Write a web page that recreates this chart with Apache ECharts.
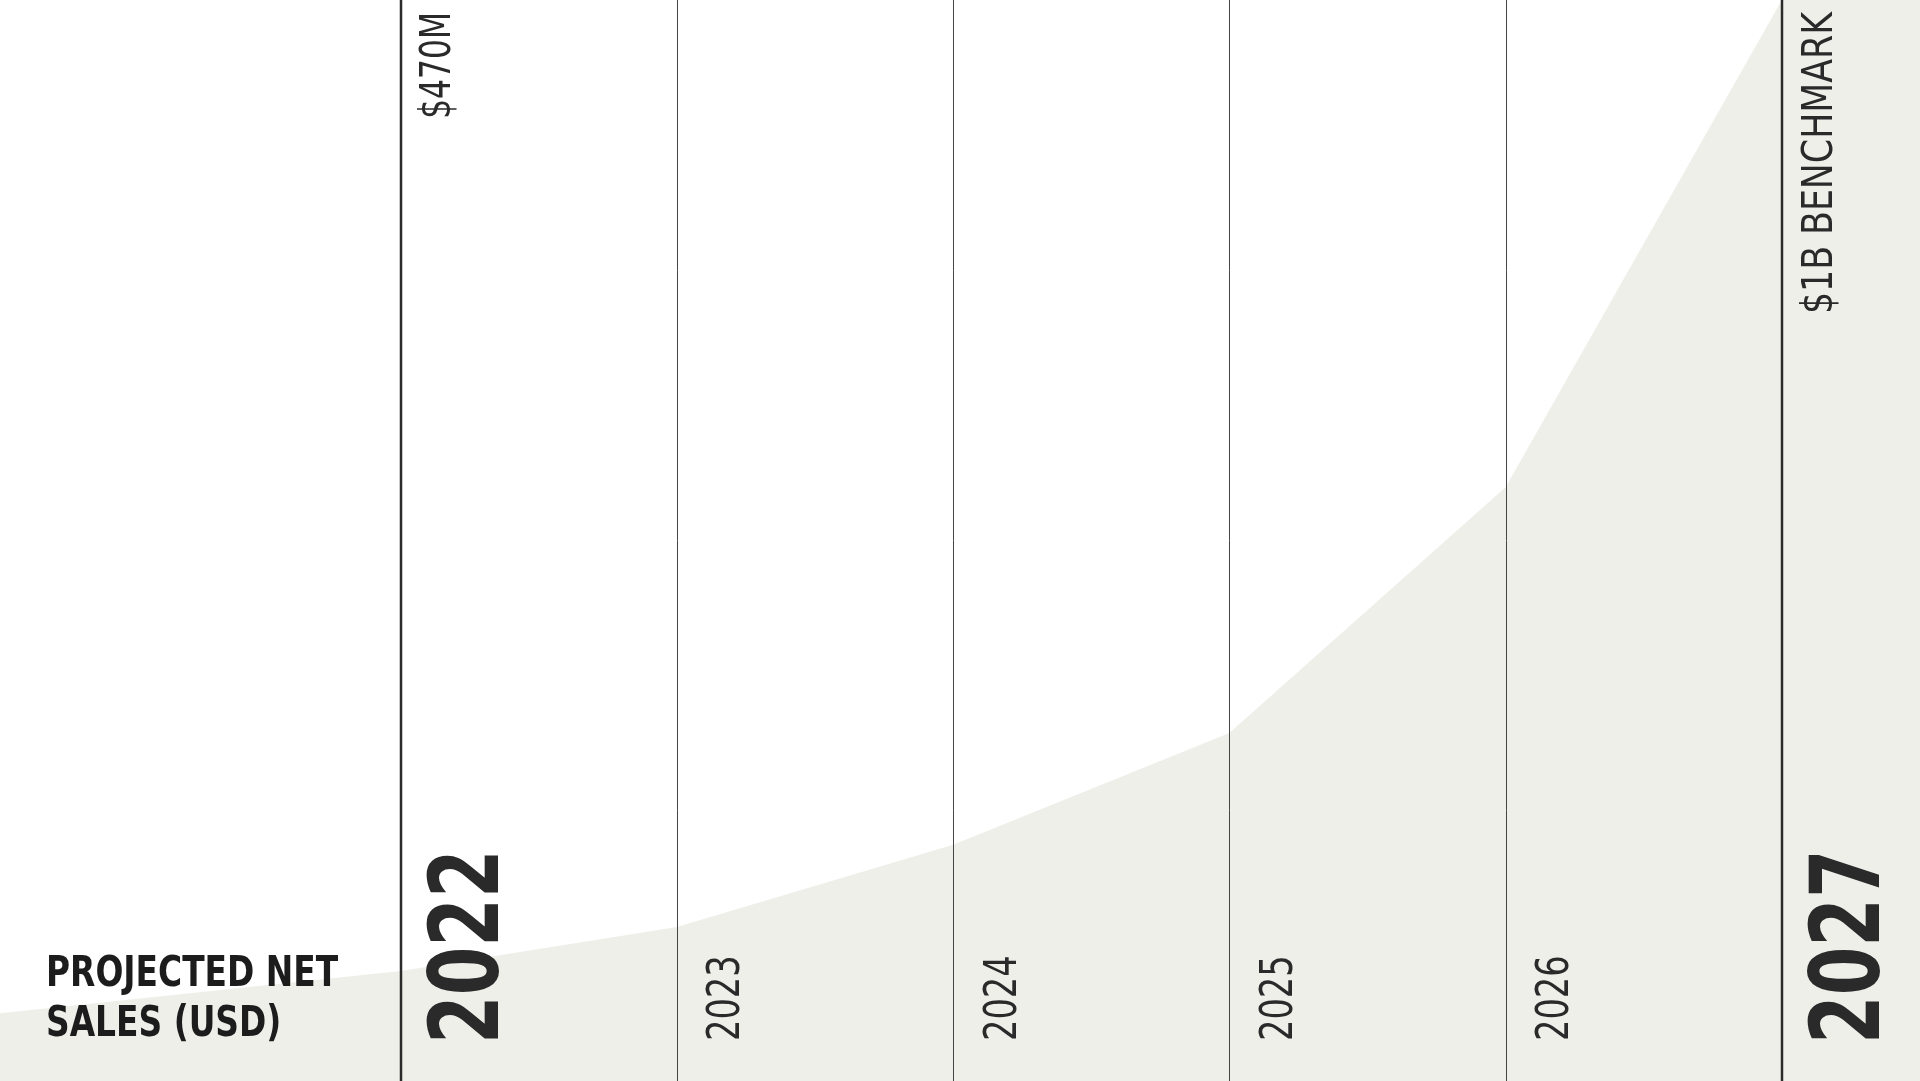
<!DOCTYPE html>
<html>
<head>
<meta charset="utf-8">
<title>Projected Net Sales</title>
<script src="https://cdn.jsdelivr.net/npm/echarts@6/dist/echarts.min.js"></script>
<style>
  html, body { margin: 0; padding: 0; background: #ffffff; }
  #chart { width: 1920px; height: 1081px; }
</style>
</head>
<body>
<div id="chart"></div>
<script>
// ---- data ----
const years = [2022, 2023, 2024, 2025, 2026, 2027];
const yearLabels = ['2022', '2023', '2024', '2025', '2026', '2027'];
const majorYear = [true, false, false, false, false, true];
const topLabels = ['$470M', '', '', '', '', '$1B BENCHMARK'];
// projected net sales (USD millions) along the area outline, incl. the chart edges
const areaYears = [2020.55, 2022, 2023, 2024, 2025, 2026, 2027, 2027.5];
const salesM = [447, 470, 494, 539, 600, 734, 1000, 1000];
const titleLines = ['PROJECTED NET', 'SALES (USD)'];

// condensed-type emulation (horizontal squeeze along the text direction)
const topScale = [0.83, 1, 1, 1, 1, 0.92];

const FONT = "'Liberation Sans Narrow', 'DejaVu Sans Condensed', 'Roboto', sans-serif";
const Y_MIN = 410, Y_MAX = 1000;

const chart = echarts.init(document.getElementById('chart'), null, { renderer: 'canvas' });

function renderYear(params, api) {
  const i = params.dataIndex;
  const yr = api.value(0);
  const x = api.coord([yr, Y_MIN])[0];
  const cs = params.coordSys;
  const top = cs.y, bottom = cs.y + cs.height;
  const major = majorYear[i];
  const lx = major ? Math.round(x) : Math.round(x) + 0.5;
  const children = [{
    type: 'line',
    shape: { x1: lx, y1: top, x2: lx, y2: bottom },
    style: { stroke: major ? '#2b2b2b' : '#454545', lineWidth: major ? 2.5 : 1 }
  }, {
    type: 'text',
    x: x + (major ? 72 : 51),
    y: bottom - (major ? 37 : 40),
    rotation: Math.PI / 2,
    scaleX: major ? 0.81 : 0.85,
    style: {
      text: yearLabels[i],
      fill: '#2a2a2a',
      font: (major ? 'bold 96px ' : '44px ') + FONT,
      align: 'left',
      verticalAlign: 'middle'
    }
  }];
  if (topLabels[i]) {
    children.push({
      type: 'text',
      x: x + 39,
      y: top + 12,
      rotation: Math.PI / 2,
      scaleX: topScale[i],
      style: {
        text: topLabels[i],
        fill: '#2a2a2a',
        font: '42px ' + FONT,
        align: 'right',
        verticalAlign: 'middle'
      }
    });
  }
  return { type: 'group', children: children };
}

chart.setOption({
  backgroundColor: '#ffffff',
  animation: false,
  grid: { left: 0, right: 0, top: 0, bottom: 0 },
  xAxis: {
    type: 'value', min: 2020.55, max: 2027.5,
    show: false, splitLine: { show: false }
  },
  yAxis: {
    type: 'value', min: Y_MIN, max: Y_MAX,
    show: false, splitLine: { show: false }
  },
  graphic: titleLines.map((t, k) => ({
    type: 'text',
    x: 46,
    y: 975 + k * 50,
    scaleX: 0.87,
    z: 10,
    style: {
      text: t,
      fill: '#1c1c1c',
      font: 'bold 42px ' + FONT,
      align: 'left',
      verticalAlign: 'middle'
    }
  })),
  series: [{
    type: 'line',
    data: areaYears.map((x, k) => [x, salesM[k]]),
    symbol: 'none',
    silent: true,
    lineStyle: { width: 0 },
    areaStyle: { color: '#efefea', opacity: 1 },
    z: 1
  }, {
    type: 'custom',
    data: years.map(y => [y, Y_MIN]),
    renderItem: renderYear,
    silent: true,
    clip: false,
    z: 5
  }]
});
</script>
</body>
</html>
